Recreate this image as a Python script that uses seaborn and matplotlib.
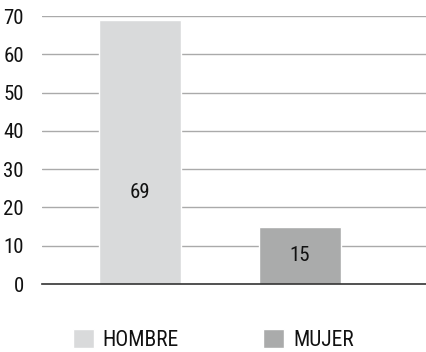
import seaborn as sns
import matplotlib.pyplot as plt
import pandas as pd
from matplotlib import font_manager

categories = ['HOMBRE', 'MUJER']
values = [69, 15]
colors = ['#d9dadb', '#aaabab']
yticks = [0, 10, 20, 30, 40, 50, 60, 70]

names = {f.name for f in font_manager.fontManager.ttflist}
fam = next((f for f in ['Roboto Condensed', 'Archivo Narrow', 'Liberation Sans Narrow',
                        'Barlow Semi Condensed', 'Roboto'] if f in names), 'DejaVu Sans')

sns.set_theme(style='white')
plt.rcParams['font.family'] = [fam, 'DejaVu Sans']

df = pd.DataFrame({'sexo': categories, 'valor': values})

fig = plt.figure(figsize=(4.26, 3.52), dpi=100)
ax = fig.add_axes([42 / 426, 68 / 352, 384 / 426, 268 / 352])
sns.barplot(data=df, x='sexo', y='valor', hue='sexo', palette=colors,
            width=0.5125, saturation=1, legend=True, ax=ax, zorder=3)

ax.set_ylim(0, 70)
ax.set_xlim(-0.6125, 1.7875)
ax.set_yticks(yticks)
ax.set_yticklabels([str(t) for t in yticks], fontsize=15, color='#111111')
ax.set_xticks([])
ax.set_xlabel('')
ax.set_ylabel('')
ax.tick_params(axis='y', length=0, pad=13)
for t in yticks[1:]:
    ax.axhline(t, color='#aaaaaa', lw=1, zorder=1)
for s in ['top', 'right', 'left']:
    ax.spines[s].set_visible(False)
ax.spines['bottom'].set_color('#333333')
ax.spines['bottom'].set_linewidth(1.2)
ax.spines['bottom'].set_zorder(4)

# value labels
label_y = [23.8, 7.5]
for i, (v, y) in enumerate(zip(values, label_y)):
    ax.text(i, y, str(v), ha='center', va='center', fontsize=15, color='#111111', zorder=5)

sns.move_legend(ax, 'lower left', bbox_to_anchor=(64 / 426, -0.022), bbox_transform=fig.transFigure,
                ncol=2, frameon=False, title=None, fontsize=15.5, handlelength=1.0, handleheight=1.0,
                handletextpad=0.4, columnspacing=3.9, borderaxespad=0)
for txt in ax.get_legend().get_texts():
    txt.set_color('#111111')

fig.savefig('out.png', dpi=100)
